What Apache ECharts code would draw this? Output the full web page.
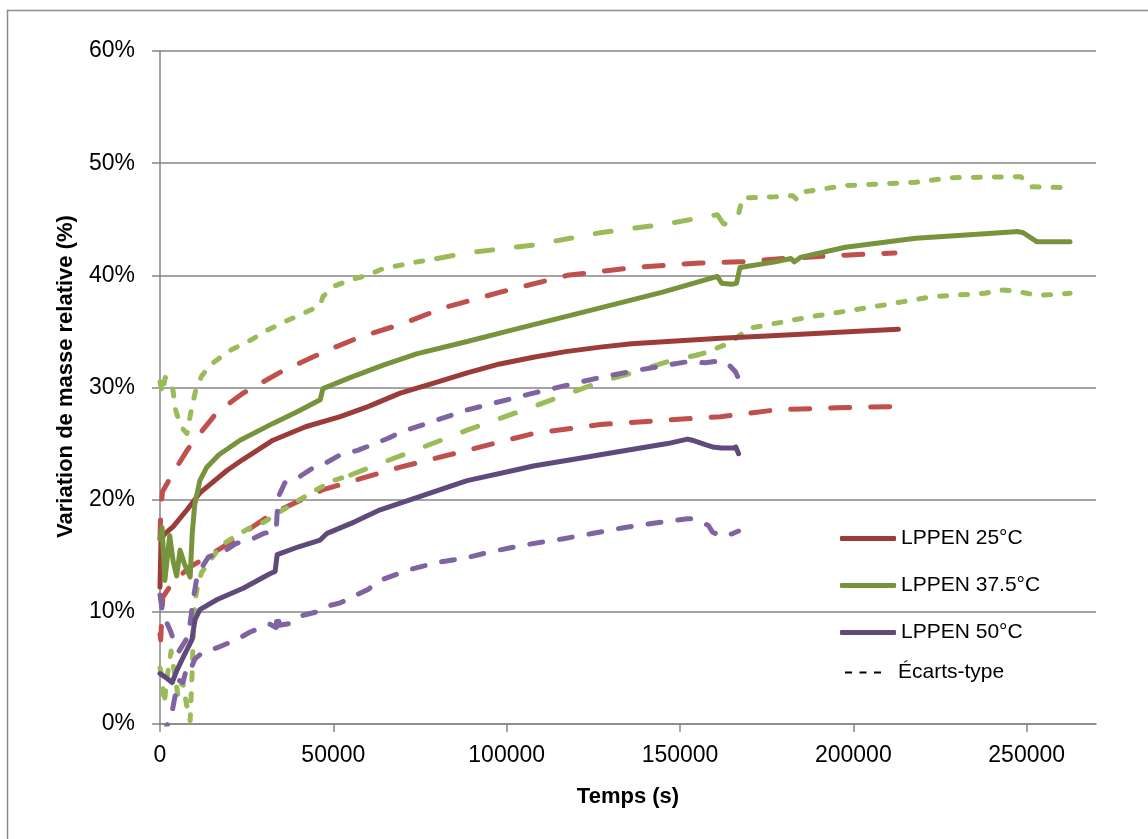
<!DOCTYPE html>
<html>
<head>
<meta charset="utf-8">
<script src="https://cdn.jsdelivr.net/npm/echarts@6/dist/echarts.min.js"></script>
<style>
html,body{margin:0;padding:0;background:#fff;}
#chart{width:1148px;height:839px;}
</style>
</head>
<body>
<div id="chart"></div>
<script>
// ---- tick labels ----
const xTicks = [0, 50000, 100000, 150000, 200000, 250000];
const yTicks = [0, 10, 20, 30, 40, 50, 60];

// ---- series names ----
const names = ['LPPEN 25°C', 'LPPEN 37.5°C', 'LPPEN 50°C'];
const sdName = 'Écarts-type';

// ---- LPPEN 25°C : mean, +sd, -sd  ([time s, variation %]) ----
const r25 = [[0,12.2],[300,16.5],[1500,17.0],[3800,17.6],[7800,19.1],[11500,20.6],[19300,22.6],[24000,23.6],[32600,25.3],[42000,26.5],[52000,27.4],[60000,28.3],[69300,29.5],[78000,30.3],[88600,31.3],[98000,32.1],[107700,32.7],[117000,33.2],[127000,33.6],[136000,33.9],[146400,34.1],[161700,34.4],[175000,34.6],[187600,34.8],[200000,35.0],[213000,35.2]];
const r25Up = [[0,16.5],[200,18.8],[700,20.7],[3800,22.4],[7800,24.4],[11500,25.9],[16500,27.8],[24000,29.5],[35500,31.5],[48200,33.3],[57700,34.5],[70200,35.7],[81700,37.1],[98200,38.5],[117500,40.0],[136600,40.7],[155900,41.1],[167400,41.2],[180000,41.5],[197700,41.8],[212000,42.0]];
const r25Lo = [[0,8.0],[200,7.5],[800,11.3],[3800,12.7],[8700,14.0],[18200,15.8],[32600,18.8],[47100,20.9],[69300,22.9],[88600,24.4],[107700,25.9],[127000,26.7],[146400,27.1],[161700,27.4],[177500,28.0],[195000,28.2],[212000,28.3]];

// ---- LPPEN 37.5°C ----
const g375 = [[0,16.5],[600,17.5],[1400,12.8],[2800,16.8],[3800,14.5],[4800,13.2],[5800,15.5],[7000,14.3],[8700,13.1],[9300,17.0],[10000,19.5],[11500,21.7],[13500,22.9],[17000,24.0],[23100,25.3],[32600,26.8],[40000,27.9],[46200,28.9],[47000,29.9],[55000,30.9],[64400,32.0],[74000,33.0],[88600,34.1],[100000,35.0],[127000,37.1],[145000,38.5],[160800,39.9],[162000,39.3],[165000,39.2],[166300,39.3],[167300,40.7],[177500,41.2],[182000,41.5],[183000,41.2],[184700,41.6],[197700,42.5],[218000,43.3],[238000,43.7],[247500,43.9],[249000,43.8],[252900,43.0],[262500,43.0]];
const g375UpA = [[0,30.5],[700,29.5],[1500,30.9],[2500,30.6],[3500,30.3],[4500,28.0],[6000,26.5],[7800,25.9],[9200,28.3],[10500,30.0],[12000,31.0],[14400,32.0],[20200,33.3],[26000,34.2],[30900,35.1],[35500,35.8],[41300,36.6],[46200,37.3],[47000,38.1],[50000,39.0],[54900,39.6],[59800,40.0],[64400,40.6],[74200,41.2],[80000,41.5]];
const g375UpB = [[80000,41.5],[88600,42.0],[107700,42.7],[127000,43.8],[146400,44.6],[160800,45.4],[162500,44.6],[165000,44.5],[166500,44.7],[167000,45.6]];
const g375UpC = [[167000,45.6],[168000,46.9],[177500,47.0],[182500,47.1],[183600,46.8],[184700,47.4],[197700,48.0],[218000,48.3],[228000,48.7],[248300,48.8],[251200,47.9],[262500,47.8]];
const g375LoA = [[0,5.0],[600,4.2],[1200,1.8],[2200,4.5],[3200,6.5],[4200,4.5],[5200,2.5],[6500,3.8],[7800,1.5],[8700,0.3],[9200,4.0],[9600,8.0],[10100,11.0],[11000,12.5],[12000,13.5],[14400,14.6],[18000,16.0],[22000,16.8],[26000,17.5],[30000,18.0],[34000,18.8],[36600,19.3],[44000,20.7],[50000,21.7],[55000,22.2]];
const g375LoB = [[55000,22.2],[61500,23.0],[69300,23.9],[88600,26.2],[107700,28.3],[127000,30.5],[135000,31.2],[146400,32.3],[155000,32.9]];
const g375LoC = [[155000,32.9],[157300,33.1],[164500,34.0],[167400,34.7],[170300,35.3],[187600,36.3],[207800,37.3],[222800,38.1],[238000,38.4],[242200,38.7],[247000,38.6],[253200,38.2],[262500,38.4]];

// ---- LPPEN 50°C ----
const p50 = [[0,4.5],[1400,4.2],[3500,3.7],[4900,4.8],[6600,5.9],[9200,7.5],[10100,9.3],[11500,10.2],[16500,11.1],[24000,12.1],[31700,13.4],[33200,13.6],[33800,15.1],[40000,15.8],[46200,16.4],[48200,17.0],[56000,18.0],[63500,19.1],[69300,19.7],[82800,21.1],[88600,21.7],[101900,22.6],[107700,23.0],[123300,23.8],[127000,24.0],[138600,24.6],[146400,25.0],[152200,25.4],[153500,25.3],[157300,24.9],[159400,24.7],[162000,24.6],[165400,24.6],[166100,24.7],[166900,24.1]];
const p50Up = [[0,11.5],[800,9.8],[2000,9.0],[3000,8.3],[4500,7.0],[5500,6.5],[7500,7.5],[8700,9.0],[9500,11.0],[10500,12.8],[11500,13.7],[14000,14.9],[19000,15.5],[22000,16.1],[26000,16.4],[30000,17.0],[33500,17.2],[33800,18.8],[34200,20.3],[36000,21.5],[40000,22.0],[44000,22.8],[48000,23.3],[52000,24.0],[57000,24.4],[62000,25.0],[66000,25.5],[69300,26.0],[88600,28.0],[107700,29.5],[127000,30.9],[137000,31.5],[146400,32.0],[152200,32.3],[157300,32.2],[162000,32.4],[164500,31.9],[166000,31.4],[166900,30.8]];
const p50Lo = [[0,-1.0],[1500,-0.5],[2500,0.2],[3300,0.8],[4300,2.4],[5400,3.9],[6600,3.7],[7800,5.1],[8700,4.8],[10100,5.8],[12000,6.3],[16500,6.8],[22000,7.5],[26000,8.2],[31700,8.9],[33500,8.6],[33800,9.9],[34500,8.8],[38000,9.0],[41300,9.7],[45300,10.0],[48200,10.5],[52000,10.8],[56000,11.4],[60000,12.0],[63500,12.8],[71300,13.7],[79900,14.4],[88100,14.8],[96100,15.4],[105900,16.0],[116000,16.5],[125000,17.0],[133700,17.5],[142300,17.9],[152200,18.3],[153900,18.3],[158200,17.7],[159400,17.1],[162500,16.7],[165400,17.0],[166900,17.2]];

// ---- styling ----
const C = {
  r: '#9B3C39', rD: '#C0504D',
  g: '#77933C', gD: '#9BBB59',
  p: '#604A7B', pD: '#8064A2',
  grid: '#868686'
};
const W = 5;
const DASH = {
  red: [19, 21],
  purple: [13, 17],
  gLong: [16, 24],
  gDot: [7, 14]
};

function line(name, data, color, type, z) {
  return {
    name: name, type: 'line', data: data, symbol: 'none', showSymbol: false,
    silent: true, animation: false, clip: true, z: z,
    lineStyle: { color: color, width: W, type: type, cap: 'round', join: 'round' },
    itemStyle: { color: color },
    emphasis: { disabled: true }
  };
}

const series = [
  line('r25Up', r25Up, C.rD, DASH.red, 2),
  line('r25Lo', r25Lo, C.rD, DASH.red, 2),
  line('g375UpA', g375UpA, C.gD, DASH.gDot, 2),
  line('g375UpB', g375UpB, C.gD, DASH.gLong, 2),
  line('g375UpC', g375UpC, C.gD, DASH.gDot, 2),
  line('g375LoA', g375LoA, C.gD, DASH.gDot, 2),
  line('g375LoB', g375LoB, C.gD, DASH.gLong, 2),
  line('g375LoC', g375LoC, C.gD, DASH.gDot, 2),
  line('p50Up', p50Up, C.pD, DASH.purple, 2),
  line('p50Lo', p50Lo, C.pD, DASH.purple, 2),
  line(names[0], r25, C.r, 'solid', 3),
  line(names[1], g375, C.g, 'solid', 3),
  line(names[2], p50, C.p, 'solid', 3),
  {
    name: sdName, type: 'line', data: [], symbol: 'none', silent: true, animation: false,
    lineStyle: { color: '#000', width: 1.6 }, itemStyle: { color: '#000' }
  }
];

const FONT = 'Liberation Sans';
const chart = echarts.init(document.getElementById('chart'), null, { renderer: 'canvas' });
chart.setOption({
  backgroundColor: '#fff',
  animation: false,
  textStyle: { fontFamily: FONT },
  grid: { left: 160, top: 51, right: 52, bottom: 115, containLabel: false },
  graphic: [{
    type: 'rect', z: -1, silent: true,
    shape: { x: 7.5, y: 10.5, width: 1300, height: 1000 },
    style: { fill: 'none', stroke: '#8c8c8c', lineWidth: 1.5 }
  }],
  legend: [
    {
      data: names, orient: 'vertical', left: 840, top: 528, padding: 0,
      icon: 'roundRect', itemWidth: 56, itemHeight: 5, itemGap: 26,
      textStyle: { fontFamily: FONT, fontSize: 21, color: '#000' }, selectedMode: false
    },
    {
      data: [{ name: sdName, icon: 'path://M0,0h7v2h-7zM14.5,0h7v2h-7zM29,0h7v2h-7z', itemStyle: { color: '#000' } }],
      orient: 'vertical', left: 845, top: 662, padding: 0, itemWidth: 36, itemHeight: 2,
      textStyle: { fontFamily: FONT, fontSize: 21, color: '#000', padding: [0, 0, 0, 12] }, selectedMode: false
    }
  ],
  xAxis: {
    type: 'value', min: 0, max: 270000, interval: 50000,
    name: 'Temps (s)', nameLocation: 'middle', nameGap: 62,
    nameTextStyle: { fontFamily: FONT, fontWeight: 'bold', fontSize: 22, color: '#000' },
    axisLine: { show: true, onZero: false, lineStyle: { color: C.grid, width: 1.5 } },
    axisTick: { show: true, length: 8, inside: false, customValues: xTicks, lineStyle: { color: C.grid, width: 1.5 } },
    axisLabel: { customValues: xTicks, formatter: v => String(v), fontFamily: FONT, fontSize: 23, color: '#000', margin: 20 },
    splitLine: { show: false }
  },
  yAxis: {
    type: 'value', min: yTicks[0], max: yTicks[yTicks.length - 1], interval: 10,
    name: 'Variation de masse relative (%)', nameLocation: 'middle', nameGap: 83,
    nameTextStyle: { fontFamily: FONT, fontWeight: 'bold', fontSize: 22, color: '#000', padding: [0, 0, 0, 22] },
    axisLine: { show: true, lineStyle: { color: C.grid, width: 1.5 } },
    axisTick: { show: true, length: 8, inside: false, lineStyle: { color: C.grid, width: 1.5 } },
    axisLabel: { formatter: v => v + '%', fontFamily: FONT, fontSize: 23, color: '#000', margin: 25 },
    splitLine: { show: true, lineStyle: { color: C.grid, width: 1.5 } }
  },
  series: series
});
</script>
</body>
</html>
